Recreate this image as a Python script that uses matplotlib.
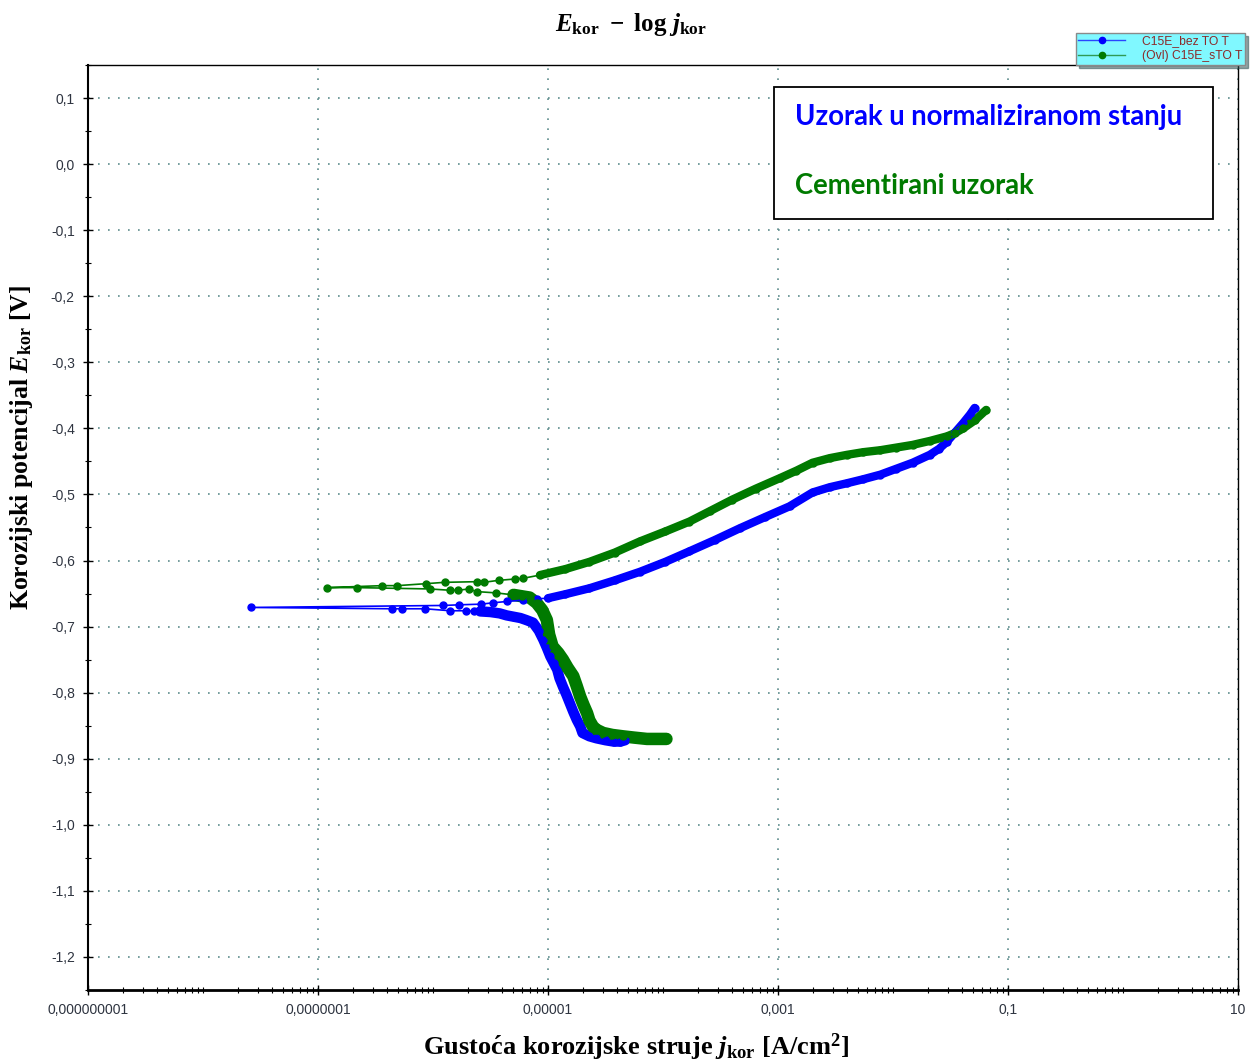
import matplotlib as mpl
mpl.use('Agg')
import matplotlib.pyplot as plt
from matplotlib.lines import Line2D
import matplotlib.ticker as mticker
import numpy as np

plt.rcParams['mathtext.fontset'] = 'custom'
plt.rcParams['mathtext.rm'] = 'Liberation Serif:bold'
plt.rcParams['mathtext.it'] = 'Liberation Serif:italic:bold'
plt.rcParams['mathtext.bf'] = 'Liberation Serif:bold'

# data: log10(j [A/cm2]) and E [V]
# C15E_bez TO T (normalised sample), blue
blue_cath_logj = [-4.33, -4.37, -4.43, -4.50, -4.58, -4.64, -4.70, -4.72, -4.75, -4.78, -4.81, -4.84,
                  -4.87, -4.90, -4.92, -4.95, -4.98, -5.01, -5.04, -5.08, -5.13, -5.19, -5.24, -5.30,
                  -5.36, -5.42, -5.50, -5.59]
blue_cath_E = [-0.872, -0.874, -0.874, -0.872, -0.869, -0.866, -0.861, -0.851, -0.841, -0.829, -0.816, -0.803,
               -0.791, -0.778, -0.765, -0.755, -0.745, -0.732, -0.720, -0.706, -0.694, -0.690, -0.687, -0.685,
               -0.683, -0.680, -0.678, -0.677]
blue_tail_logj = [-5.64, -5.71, -5.85, -6.07, -6.27, -6.36, -7.58, -5.91, -5.77, -5.58, -5.48, -5.36, -5.22, -5.10]
blue_tail_E = [-0.677, -0.676, -0.676, -0.673, -0.673, -0.673, -0.671, -0.668, -0.667, -0.666, -0.664, -0.662,
               -0.660, -0.658]
blue_an_logj = [-5.00, -4.85, -4.64, -4.42, -4.20, -3.98, -3.77, -3.55, -3.33, -3.11, -2.90, -2.70, -2.55,
                -2.40, -2.26, -2.11, -1.97, -1.83, -1.68, -1.60, -1.53, -1.46, -1.39, -1.33, -1.29]
blue_an_E = [-0.657, -0.651, -0.642, -0.630, -0.617, -0.602, -0.586, -0.569, -0.551, -0.534, -0.518, -0.497,
             -0.489, -0.483, -0.477, -0.470, -0.461, -0.452, -0.440, -0.431, -0.420, -0.406, -0.392, -0.379,
             -0.369]

# (Ovl) C15E_sTO T (carburised sample), green
green_cath_logj = [-3.97, -4.06, -4.14, -4.25, -4.35, -4.44, -4.52, -4.58, -4.61, -4.64, -4.66, -4.69, -4.72,
                   -4.75, -4.78, -4.83, -4.87, -4.91, -4.96, -4.99, -5.01, -5.05, -5.10, -5.16, -5.23, -5.30]
green_cath_E = [-0.870, -0.870, -0.870, -0.868, -0.866, -0.864, -0.861, -0.856, -0.851, -0.842, -0.831, -0.819,
                -0.806, -0.790, -0.775, -0.762, -0.750, -0.740, -0.730, -0.712, -0.690, -0.675, -0.664, -0.656,
                -0.654, -0.652]
green_tail_logj = [-5.45, -5.62, -5.69, -5.78, -5.85, -6.03, -6.66, -6.92, -6.44, -6.31, -6.06, -5.90, -5.62,
                   -5.56, -5.43, -5.29, -5.22]
green_tail_E = [-0.649, -0.647, -0.643, -0.645, -0.645, -0.643, -0.641, -0.641, -0.638, -0.638, -0.635, -0.633,
                -0.632, -0.633, -0.630, -0.628, -0.627]
green_an_logj = [-5.07, -4.85, -4.64, -4.42, -4.20, -3.98, -3.77, -3.59, -3.40, -3.19, -2.98, -2.84, -2.70,
                 -2.55, -2.40, -2.26, -2.11, -1.97, -1.83, -1.68, -1.53, -1.46, -1.39, -1.29, -1.19]
green_an_E = [-0.622, -0.613, -0.602, -0.588, -0.571, -0.556, -0.541, -0.525, -0.508, -0.491, -0.475, -0.464,
              -0.452, -0.445, -0.440, -0.436, -0.433, -0.429, -0.425, -0.419, -0.412, -0.407, -0.400, -0.388,
              -0.372]

x_tick_vals = [1e-9, 1e-7, 1e-5, 1e-3, 1e-1, 10]
x_tick_labels = ['0,000000001', '0,0000001', '0,00001', '0,001', '0,1', '10']
y_tick_vals = [0.1, 0.0, -0.1, -0.2, -0.3, -0.4, -0.5, -0.6, -0.7, -0.8, -0.9, -1.0, -1.1, -1.2]
y_tick_labels = ['0,1', '0,0', '-0,1', '-0,2', '-0,3', '-0,4', '-0,5', '-0,6', '-0,7', '-0,8', '-0,9',
                 '-1,0', '-1,1', '-1,2']

# name, colour, legend line colour, cathodic band width, data
series = [
    ('C15E_bez TO T', '#0000ff', '#2a45ff', 7.5, blue_cath_logj, blue_cath_E, blue_tail_logj, blue_tail_E,
     blue_an_logj, blue_an_E),
    ('(Ovl) C15E_sTO T', '#007a00', '#2f9a55', 9, green_cath_logj, green_cath_E, green_tail_logj,
     green_tail_E, green_an_logj, green_an_E),
]

fig = plt.figure(figsize=(12.53, 10.63), dpi=100, facecolor='white')
ax = fig.add_axes([88 / 1253, 1 - 990 / 1063, 1150 / 1253, 925 / 1063])

for name, col, lcol, cw, cl, ce, tl, te, al, ae in series:
    j_all = np.power(10.0, np.array(cl + tl + al))
    e_all = np.array(ce + te + ae)
    ax.plot(np.power(10.0, cl), ce, color=col, lw=cw, solid_capstyle='round', solid_joinstyle='round', zorder=3)
    ax.plot(np.power(10.0, al), ae, color=col, lw=6, solid_capstyle='round', solid_joinstyle='round', zorder=3)
    ax.plot(j_all, e_all, color=col, lw=1.2, marker='o', ms=5, mec=col, mfc=col, zorder=4)

ax.set_xscale('log')
ax.set_xlim(1e-9, 10)
ax.set_ylim(-1.25, 0.15)

ax.set_xticks(x_tick_vals)
ax.set_xticklabels(x_tick_labels)
ax.xaxis.set_minor_locator(mticker.LogLocator(base=10, subs=np.arange(1, 10), numticks=30))
ax.xaxis.set_minor_formatter(mticker.NullFormatter())
ax.set_yticks(y_tick_vals)
ax.set_yticklabels(y_tick_labels)
ax.yaxis.set_minor_locator(mticker.MultipleLocator(0.05))

ax.tick_params(axis='both', which='major', direction='inout', length=7, width=1,
               labelsize=10, labelcolor='#2e3440', pad=6)
ax.tick_params(axis='both', which='minor', direction='inout', length=5, width=0.8)
for lab in ax.get_xticklabels() + ax.get_yticklabels():
    lab.set_family('Liberation Sans')

ax.grid(True, which='major', color='#5e8c8c', linestyle=(0, (1, 5)), lw=1.2)
ax.spines['bottom'].set_linewidth(2)
ax.spines['left'].set_linewidth(1.5)
ax.spines['top'].set_linewidth(1)
ax.spines['right'].set_linewidth(1)

# annotation box
box = plt.Rectangle((774 / 1253, 1 - 219 / 1063), (1213 - 774) / 1253, (219 - 87) / 1063,
                    transform=fig.transFigure, fill=True, facecolor='white', edgecolor='black', lw=1.3,
                    zorder=5)
fig.patches.append(box)
fig.text(795 / 1253, 1 - 125 / 1063, 'Uzorak u normaliziranom stanju', color='#0000ff',
         fontsize=19.8, fontweight='bold', family='Lato', va='baseline', zorder=6)
fig.text(795 / 1253, 1 - 194 / 1063, 'Cementirani uzorak', color='#007a00',
         fontsize=19.8, fontweight='bold', family='Lato', va='baseline', zorder=6)

# legend
handles = [Line2D([], [], color=s[2], lw=1, marker='o', ms=4.5, mfc=s[1], mec=s[1]) for s in series]
leg = fig.legend(handles, [s[0] for s in series], loc='upper right',
                 bbox_to_anchor=(1245 / 1253, 1 - 33 / 1063), fontsize=8.7, frameon=True,
                 facecolor='#80f8ff', edgecolor='#8a8a8a', framealpha=1, fancybox=False, shadow=True,
                 borderpad=0.2, labelspacing=0.25, handlelength=3.9, handletextpad=1.4, borderaxespad=0)
for t in leg.get_texts():
    t.set_color('#8b2a2a')
    t.set_family('Liberation Sans')

fig.text(631 / 1253, 1 - 24 / 1063, r'$E_{\mathrm{kor}}\ -\ \mathrm{log}\ j_{\mathrm{kor}}$',
         ha='center', va='center', fontsize=18)
fig.text(636 / 1253, 1 - 1047 / 1063, r'$\mathrm{Gusto\acute{c}a\ korozijske\ struje}\ j_{\mathrm{kor}}\ \mathrm{[A/cm^2]}$',
         ha='center', va='center', fontsize=19)
fig.text(22 / 1253, 1 - 447 / 1063, r'$\mathrm{Korozijski\ potencijal}\ E_{\mathrm{kor}}\ \mathrm{[V]}$',
         ha='center', va='center', rotation=90, fontsize=18.5)

fig.savefig('out.png', dpi=100, facecolor='white')
